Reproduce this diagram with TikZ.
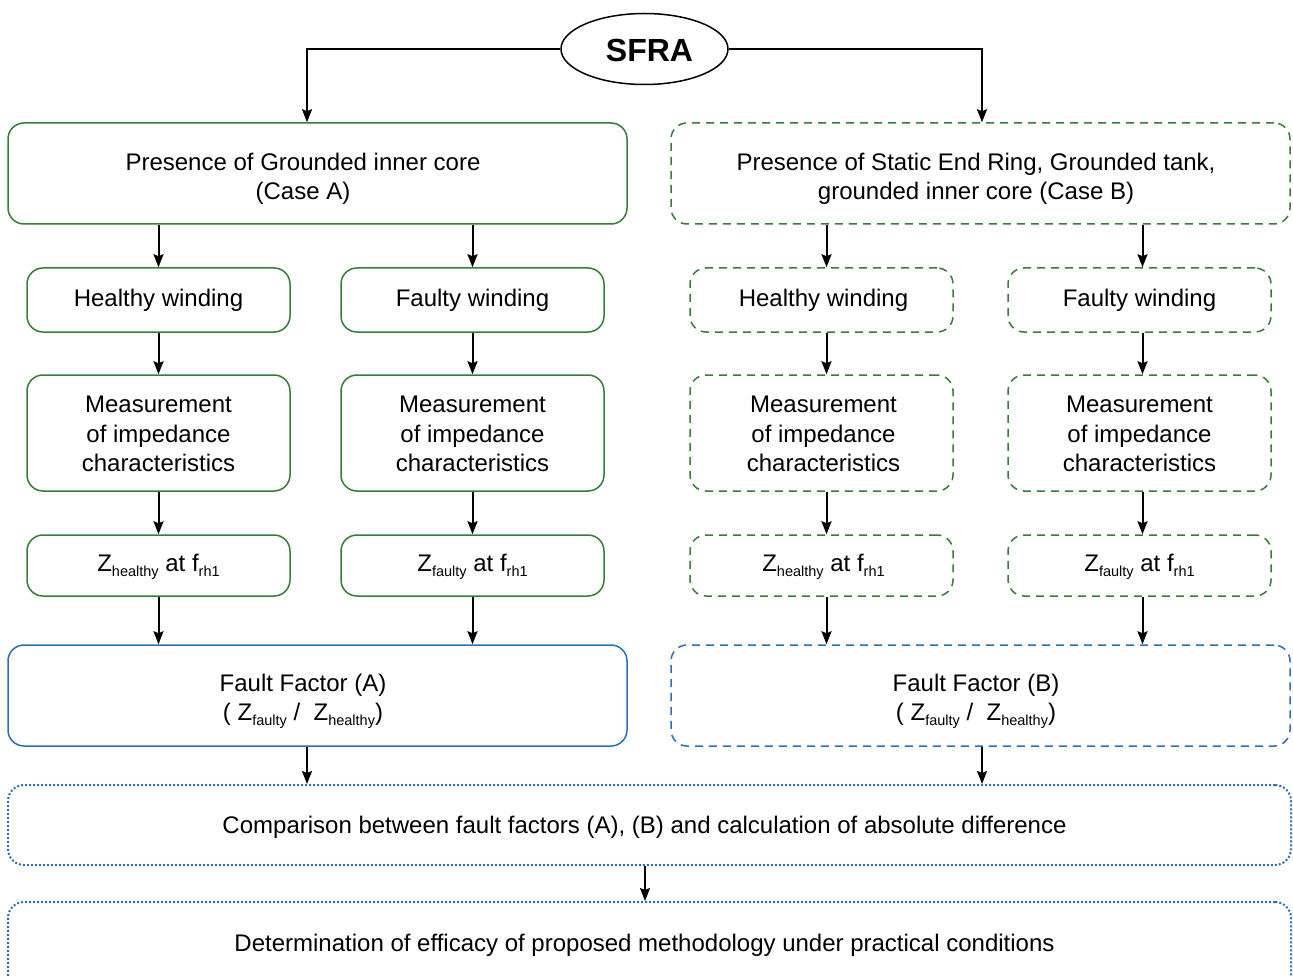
\documentclass[tikz,border=0pt]{standalone}
\usepackage{fontspec}
\setmainfont{Liberation Sans}
\usetikzlibrary{arrows.meta,shapes.geometric}
\definecolor{grn}{RGB}{56,124,56}
\definecolor{blu}{RGB}{45,110,185}
\newcommand{\zs}[1]{\raisebox{-0.35ex}{\fontsize{14.5}{14.5}\selectfont #1}}
\begin{document}
\begin{tikzpicture}[x=1pt,y=-1pt,
  box/.style={rectangle, rounded corners=16pt, draw, line width=1.5pt, inner sep=0pt},
  gsolid/.style={box, draw=grn},
  gdash/.style={box, draw=grn, dash pattern=on 8pt off 6pt},
  bsolid/.style={box, draw=blu},
  bdash/.style={box, draw=blu, dash pattern=on 8pt off 6pt},
  bdot/.style={box, draw=blu, line width=2pt, dash pattern=on 2pt off 2pt},
  txt/.style={align=center, inner sep=0pt, font=\fontsize{24}{29.5}\selectfont},
  big/.style={minimum width=619pt, minimum height=101pt},
  small/.style={minimum width=263pt},
  arr/.style={draw=black, line width=2pt, -{Stealth[length=13pt,width=10pt,inset=2pt]}}
]
\useasboundingbox (0,0) rectangle (1293,976);

\node[ellipse, draw, line width=1.5pt, minimum width=167pt, minimum height=71pt, inner sep=0pt] (sfra) at (644.5,49) {};
\node[font=\fontsize{32}{32}\selectfont\bfseries, inner sep=0pt] (sfrat) at (649.5,50) {SFRA};

% boxes
\node[gsolid, big] (A) at (317.5,173.5) {};
\node[gdash, big] (B) at (980.5,173.5) {};
\node[gsolid, small, minimum height=64pt] (hA) at (158.5,300) {};
\node[gsolid, small, minimum height=64pt] (fA) at (472.5,300) {};
\node[gdash, small, minimum height=64pt] (hB) at (821.5,300) {};
\node[gdash, small, minimum height=64pt] (fB) at (1139.5,300) {};
\node[gsolid, small, minimum height=116pt] (mA1) at (158.5,433) {};
\node[gsolid, small, minimum height=116pt] (mA2) at (472.5,433) {};
\node[gdash, small, minimum height=116pt] (mB1) at (821.5,433) {};
\node[gdash, small, minimum height=116pt] (mB2) at (1139.5,433) {};
\node[gsolid, small, minimum height=61pt] (zA1) at (158.5,565.5) {};
\node[gsolid, small, minimum height=61pt] (zA2) at (472.5,565.5) {};
\node[gdash, small, minimum height=61pt] (zB1) at (821.5,565.5) {};
\node[gdash, small, minimum height=61pt] (zB2) at (1139.5,565.5) {};
\node[bsolid, big] (ffA) at (317.5,695.5) {};
\node[bdash, big] (ffB) at (980.5,695.5) {};
\node[bdot, minimum width=1283pt, minimum height=80pt] (cmp) at (649.5,825) {};
\node[bdot, minimum width=1283pt, minimum height=88pt] (det) at (649.5,946) {};

% texts
\node[txt] (At) at (303,179) {Presence of Grounded inner core\\(Case A)};
\node[txt] (Bt) at (976,179) {Presence of Static End Ring, Grounded tank,\\grounded inner core (Case B)};
\node[txt] (hAt) at (158.5,300) {Healthy winding};
\node[txt] (fAt) at (472.5,300) {Faulty winding};
\node[txt] (hBt) at (823.5,300) {Healthy winding};
\node[txt] (fBt) at (1139.5,300) {Faulty winding};
\node[txt] (mA1t) at (158.5,434) {Measurement\\of impedance\\characteristics};
\node[txt] (mA2t) at (472.5,434) {Measurement\\of impedance\\characteristics};
\node[txt] (mB1t) at (823.5,434) {Measurement\\of impedance\\characteristics};
\node[txt] (mB2t) at (1139.5,434) {Measurement\\of impedance\\characteristics};
\node[txt] (zA1t) at (158.5,567) {Z\zs{healthy} at f\zs{rh1}};
\node[txt] (zA2t) at (472.5,567) {Z\zs{faulty} at f\zs{rh1}};
\node[txt] (zB1t) at (823.5,567) {Z\zs{healthy} at f\zs{rh1}};
\node[txt] (zB2t) at (1139.5,567) {Z\zs{faulty} at f\zs{rh1}};
\node[txt] (ffAt) at (303,701) {Fault Factor (A)\\( Z\zs{faulty} /\ \ Z\zs{healthy})};
\node[txt] (ffBt) at (976,701) {Fault Factor (B)\\( Z\zs{faulty} /\ \ Z\zs{healthy})};
\node[txt] (cmpt) at (644.5,827) {Comparison between fault factors (A), (B) and calculation of absolute difference};
\node[txt] (dett) at (644.5,945) {Determination of efficacy of proposed methodology under practical conditions};

% connectors
\draw[arr] (sfra.west) -| ([xshift=-10.5pt]A.north);
\draw[arr] (sfra.east) -| ([xshift=1.5pt]B.north);

\draw[arr] (hA.north |- A.south) -- (hA.north);
\draw[arr] (fA.north |- A.south) -- (fA.north);
\draw[arr] ([xshift=5pt]hB.north |- B.south) -- ([xshift=5pt]hB.north);
\draw[arr] ([xshift=3pt]fB.north |- B.south) -- ([xshift=3pt]fB.north);
\draw[arr] (hA.south) -- (mA1.north);
\draw[arr] (fA.south) -- (mA2.north);
\draw[arr] ([xshift=5pt]hB.south) -- ([xshift=5pt]mB1.north);
\draw[arr] ([xshift=3pt]fB.south) -- ([xshift=3pt]mB2.north);
\draw[arr] (mA1.south) -- (zA1.north);
\draw[arr] (mA2.south) -- (zA2.north);
\draw[arr] ([xshift=5pt]mB1.south) -- ([xshift=5pt]zB1.north);
\draw[arr] ([xshift=3pt]mB2.south) -- ([xshift=3pt]zB2.north);
\draw[arr] (zA1.south) -- (zA1.south |- ffA.north);
\draw[arr] (zA2.south) -- (zA2.south |- ffA.north);
\draw[arr] ([xshift=5pt]zB1.south) -- ([xshift=5pt]zB1.south |- ffB.north);
\draw[arr] ([xshift=3pt]zB2.south) -- ([xshift=3pt]zB2.south |- ffB.north);

\draw[arr] ([xshift=-10.5pt]ffA.south) -- ([xshift=-10.5pt]ffA.south |- cmp.north);
\draw[arr] ([xshift=1.5pt]ffB.south) -- ([xshift=1.5pt]ffB.south |- cmp.north);
\draw[arr] ([xshift=-4.5pt]cmp.south) -- ([xshift=-4.5pt]cmp.south |- det.north);
\end{tikzpicture}
\end{document}
